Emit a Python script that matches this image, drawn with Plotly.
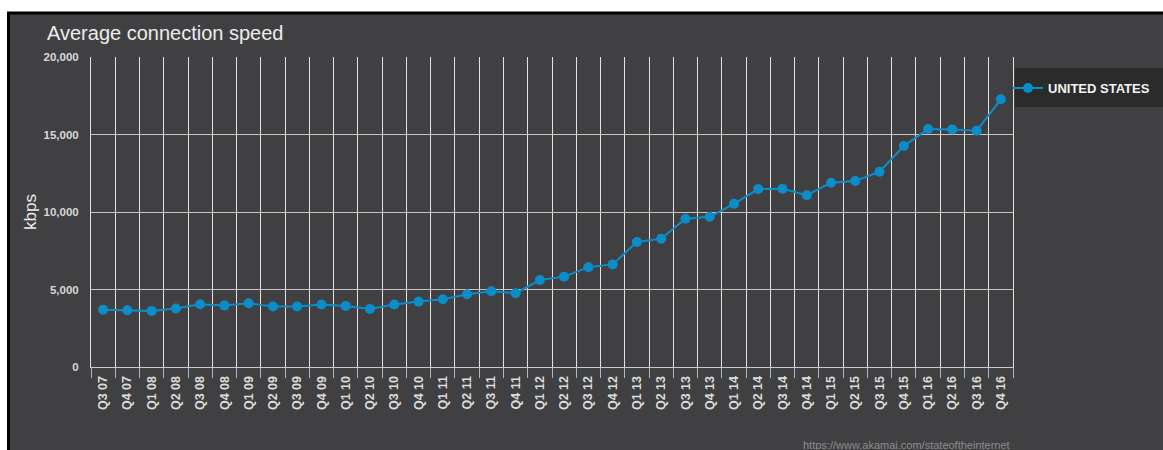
import plotly.graph_objects as go

categories = ["Q3 07", "Q4 07",
              "Q1 08", "Q2 08", "Q3 08", "Q4 08",
              "Q1 09", "Q2 09", "Q3 09", "Q4 09",
              "Q1 10", "Q2 10", "Q3 10", "Q4 10",
              "Q1 11", "Q2 11", "Q3 11", "Q4 11",
              "Q1 12", "Q2 12", "Q3 12", "Q4 12",
              "Q1 13", "Q2 13", "Q3 13", "Q4 13",
              "Q1 14", "Q2 14", "Q3 14", "Q4 14",
              "Q1 15", "Q2 15", "Q3 15", "Q4 15",
              "Q1 16", "Q2 16", "Q3 16", "Q4 16"]

us_speed_kbps = [3700, 3660, 3620, 3770, 4050, 3960,
                 4110, 3900, 3900, 4030, 3940, 3750,
                 4030, 4220, 4370, 4690, 4890, 4760,
                 5610, 5830, 6430, 6620, 8060, 8280,
                 9570, 9690, 10530, 11480, 11500, 11080,
                 11890, 12000, 12600, 14260, 15350, 15330,
                 15240, 17270]

y_ticks = [0, 5000, 10000, 15000, 20000]
y_tick_labels = ["0", "5,000", "10,000", "15,000", "20,000"]

W, H = 1163, 450
L, R, T, B = 91, 150, 57, 83
PW, PH = W - L - R, H - T - B


def px_x(px):
    return (px - L) / PW


def px_y(py):
    return (H - B - py) / PH


FONT = "Liberation Sans, Arial, sans-serif"
BG = "#404042"
LINE_COLOR = "#0b8dc9"

fig = go.Figure()
fig.add_trace(go.Scatter(
    x=categories, y=us_speed_kbps, mode="lines+markers",
    name="UNITED STATES",
    line=dict(color=LINE_COLOR, width=2),
    marker=dict(color=LINE_COLOR, size=10),
))

fig.update_layout(
    width=W, height=H,
    margin=dict(l=L, r=R, t=T, b=B, pad=0, autoexpand=False),
    paper_bgcolor="white",
    plot_bgcolor="rgba(0,0,0,0)",
    font=dict(family=FONT, color="#d8d8d8"),
    showlegend=True,
    legend=dict(
        x=px_x(1008), y=px_y(88), xanchor="left", yanchor="middle",
        bgcolor="rgba(0,0,0,0)", borderwidth=0,
        font=dict(family=FONT, size=13, color="#f2f2f2", weight="bold"),
        itemwidth=30,
    ),
    xaxis=dict(
        type="category", range=[-0.5, len(categories) - 0.5],
        tickson="boundaries", ticks="outside", ticklen=10,
        tickcolor="#a9b6c4", tickwidth=1,
        showline=True, linecolor="#c3ccd8", linewidth=1,
        showgrid=True, gridcolor="#e2e2e2", gridwidth=1,
        tickangle=-90, ticklabelstandoff=3,
        tickfont=dict(family=FONT, size=12.5, color="#dcdcdc", weight="bold"),
        fixedrange=True,
    ),
    yaxis=dict(
        range=[0, 20000], tickvals=y_ticks, ticktext=y_tick_labels,
        showgrid=True, gridcolor="#c4c4c4", gridwidth=1,
        zeroline=False, showline=True, mirror=True,
        linecolor="#e2e2e2", linewidth=1,
        ticks="", ticklabelstandoff=9,
        tickfont=dict(family=FONT, size=11.5, color="#d8d8d8", weight="bold"),
        fixedrange=True,
    ),
    shapes=[
        dict(type="rect", xref="paper", yref="paper", layer="below",
             x0=px_x(8.5), x1=px_x(1180), y0=px_y(470), y1=px_y(13),
             fillcolor=BG, line=dict(color="black", width=3)),
        dict(type="rect", xref="paper", yref="paper", layer="below",
             x0=px_x(1015), x1=px_x(1180), y0=px_y(107), y1=px_y(68),
             fillcolor="#2b2b2c", line=dict(width=0)),
    ],
    annotations=[
        dict(text="Average connection speed", xref="paper", yref="paper",
             x=px_x(45), y=px_y(33), xanchor="left", yanchor="middle",
             showarrow=False, font=dict(family=FONT, size=20, color="#ececec")),
        dict(text="kbps", xref="paper", yref="paper",
             x=px_x(30), y=0.5, xanchor="center", yanchor="middle",
             textangle=-90, showarrow=False,
             font=dict(family=FONT, size=17, color="#ececec")),
        dict(text="https://www.akamai.com/stateoftheinternet", xref="paper", yref="paper",
             x=px_x(801), y=px_y(445), xanchor="left", yanchor="middle",
             showarrow=False, font=dict(family=FONT, size=11, color="#8c8c8c")),
    ],
)

fig.write_html("out.html")
